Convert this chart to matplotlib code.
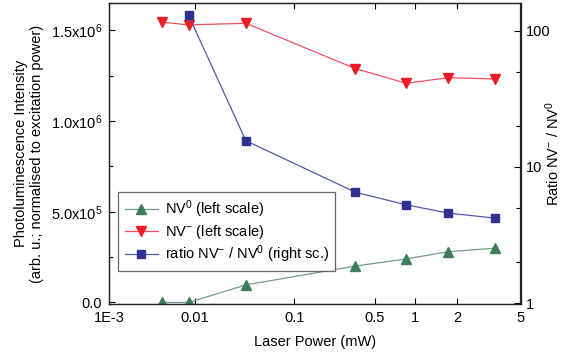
import numpy as np
import matplotlib
matplotlib.use("Agg")
import matplotlib.pyplot as plt
from matplotlib.ticker import FixedLocator, FixedFormatter, NullFormatter

plt.rcParams['font.family'] = ['Liberation Sans', 'DejaVu Sans']
plt.rcParams['mathtext.fontset'] = 'custom'
plt.rcParams['mathtext.rm'] = 'Liberation Sans'
plt.rcParams['mathtext.it'] = 'Liberation Sans:italic'
plt.rcParams['mathtext.bf'] = 'Liberation Sans:bold'

# ---- data ----
power = [0.0041, 0.0084, 0.0325, 0.338, 0.862, 1.73, 3.44]
nv0 = [0.0, 0.0, 9.7e4, 2.01e5, 2.40e5, 2.80e5, 2.99e5]
nvm = [1.545e6, 1.530e6, 1.539e6, 1.289e6, 1.208e6, 1.239e6, 1.232e6]
ratio_power = [0.0084, 0.0325, 0.338, 0.862, 1.73, 3.44]
ratio = [129.6, 15.6, 6.53, 5.28, 4.59, 4.22]

xticks = [0.001, 0.01, 0.1, 0.5, 1, 2, 5]
xticklabels = ["1E-3", "0.01", "0.1", "0.5", "1", "2", "5"]
lticks = [0, 5e5, 1e6, 1.5e6]
lticklabels = ["0.0", r"5.0x10$^{5}$", r"1.0x10$^{6}$", r"1.5x10$^{6}$"]
rticks = [1, 10, 100]
rticklabels = ["1", "10", "100"]

# ---- nonlinear x scale of the original (axis warp) ----
_u = np.array([-3, -2, -1, np.log10(0.5), 0, np.log10(2), np.log10(5)])
_p = np.array([0.0, 86, 185, 265.7, 305.3, 347.7, 411.0]) / 411.0

def fwd(x):
    x = np.clip(np.asarray(x, dtype=float), 1e-12, None)
    return np.interp(np.log10(x), _u, _p)

def inv(p):
    return 10 ** np.interp(np.asarray(p, dtype=float), _p, _u)

W, H = 562, 360
fig = plt.figure(figsize=(W / 100, H / 100), dpi=100)
ax = fig.add_axes([109 / W, 1 - 304 / H, 411.5 / W, 300.7 / H])
ax.set_xscale('function', functions=(fwd, inv))
ax.set_xlim(0.001, 5)
ax.set_ylim(-8.3e3, 1.649e6)

c_green, c_green_l = '#3e7d5a', '#6f9f82'
c_red, c_red_l = '#ee1c25', '#f25060'
c_blue, c_blue_l = '#2e3192', '#5458a8'

l1, = ax.plot(power, nv0, '-', color=c_green_l, lw=0.9, marker='^', ms=7.5,
              mfc=c_green, mec=c_green, label=r"NV$^{0}$ (left scale)")
l2, = ax.plot(power, nvm, '-', color=c_red_l, lw=0.9, marker='v', ms=7.5,
              mfc=c_red, mec=c_red, label=r"NV$^{-}$ (left scale)")

ax2 = ax.twinx()
ax2.set_yscale('log')
ax2.set_ylim(0.988, 158.9)
l3, = ax2.plot(ratio_power, ratio, '-', color=c_blue_l, lw=0.9, marker='s', ms=5.5,
               mfc=c_blue, mec=c_blue, label=r"ratio NV$^{-}$ / NV$^{0}$ (right sc.)")

ax.xaxis.set_major_locator(FixedLocator(xticks))
ax.xaxis.set_major_formatter(FixedFormatter(xticklabels))
ax.xaxis.set_minor_locator(FixedLocator([]))
ax.yaxis.set_major_locator(FixedLocator(lticks))
ax.yaxis.set_major_formatter(FixedFormatter(lticklabels))
ax.yaxis.set_minor_locator(FixedLocator([2.5e5, 7.5e5, 1.25e6]))
ax.tick_params(axis='x', which='both', direction='in', top=True, length=4.5, width=0.8,
               labelsize=10.5, pad=5)
ax.tick_params(axis='y', which='major', direction='in', length=4.5, width=0.8,
               labelsize=10.5, pad=5)
ax.tick_params(axis='y', which='minor', direction='in', length=3, width=0.8)

ax2.yaxis.set_major_locator(FixedLocator(rticks))
ax2.yaxis.set_major_formatter(FixedFormatter(rticklabels))
ax2.yaxis.set_minor_locator(FixedLocator([2, 5, 20, 50]))
ax2.yaxis.set_minor_formatter(NullFormatter())
ax2.tick_params(axis='y', which='major', direction='in', length=4.5, width=0.8,
                labelsize=10.5, pad=4)
ax2.tick_params(axis='y', which='minor', direction='in', length=3, width=0.8)

for a in (ax, ax2):
    for s in a.spines.values():
        s.set_linewidth(0.9)
        s.set_color('#222222')

ax.set_xlabel("Laser Power (mW)", fontsize=10.5, labelpad=7)
ax.set_ylabel("Photoluminescence Intensity\n(arb. u.; normalised to excitation power)",
              fontsize=10.5, labelpad=5)
ax2.set_ylabel(r"Ratio NV$^{-}$ / NV$^{0}$", fontsize=10.5, rotation=90)
ax2.yaxis.set_label_coords((543 - 109) / 411.5, 0.5)

leg = ax2.legend(handles=[l1, l2, l3], loc='upper left',
                 bbox_to_anchor=(0.022, 0.373), fontsize=10.5, frameon=True,
                 fancybox=False, edgecolor='#444444', handlelength=2.3,
                 borderpad=0.45, labelspacing=0.18, handletextpad=0.45,
                 borderaxespad=0)
leg.get_frame().set_linewidth(0.9)

fig.savefig("out.png", dpi=100)
